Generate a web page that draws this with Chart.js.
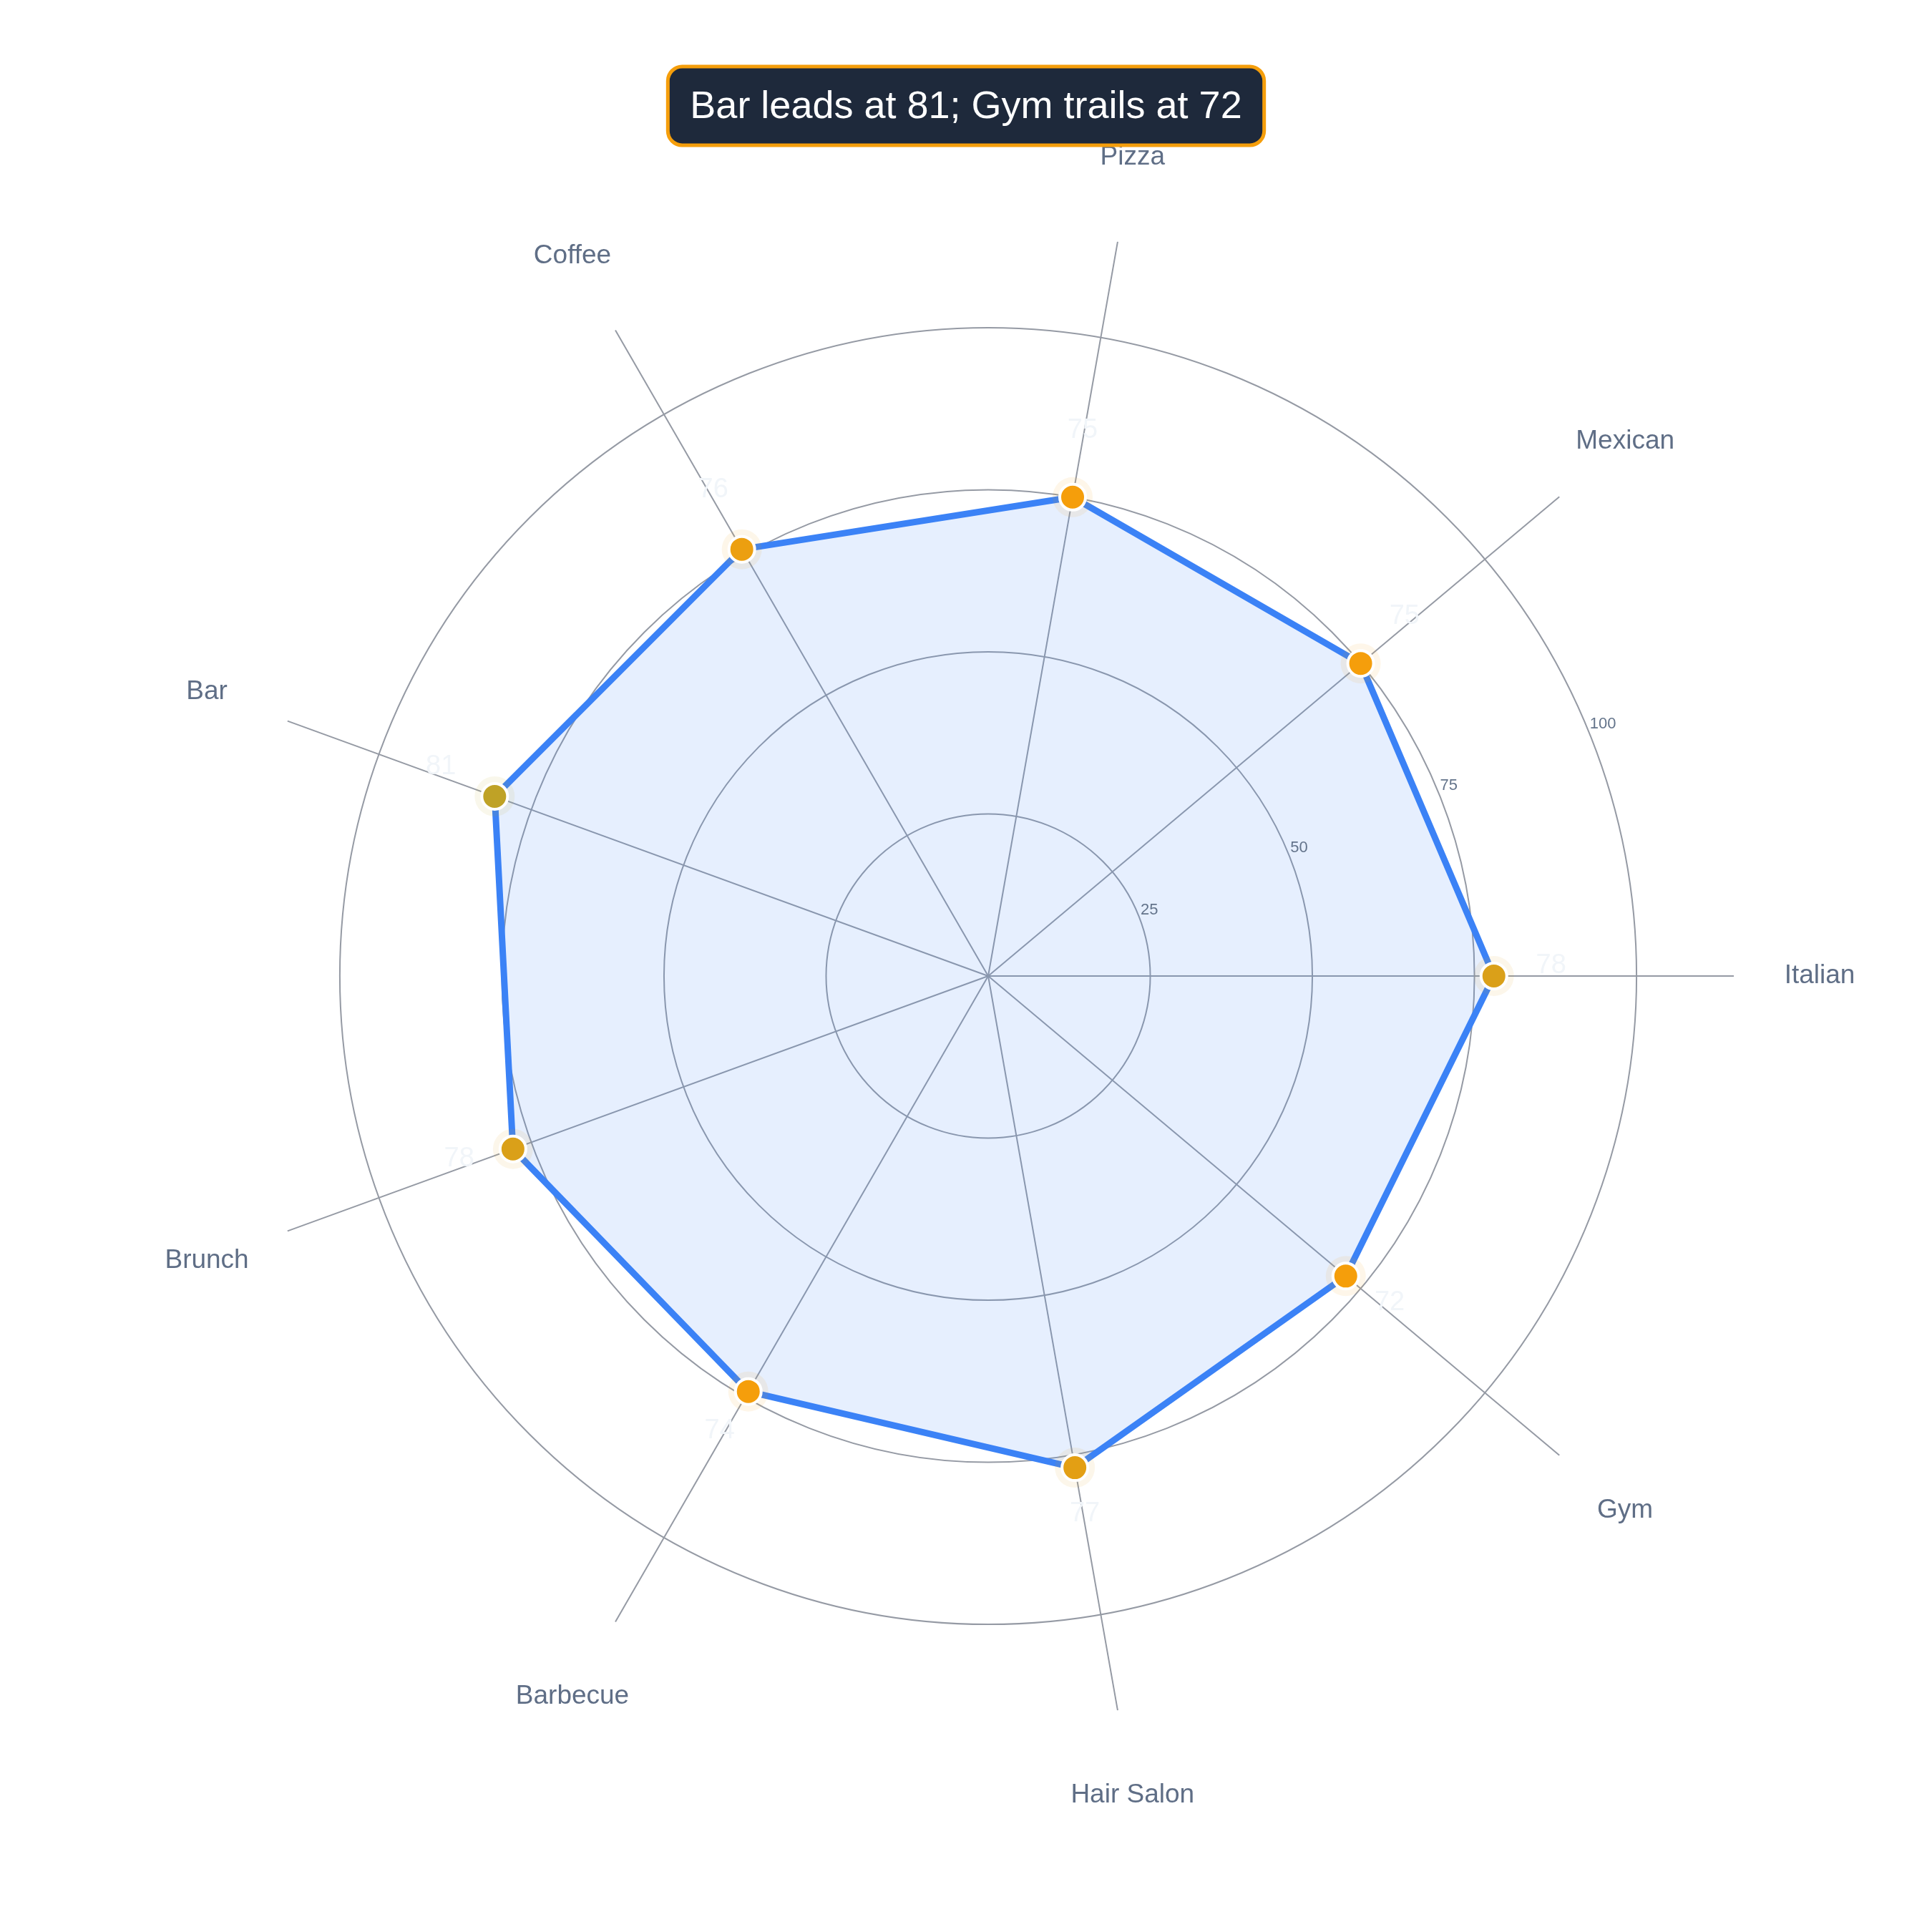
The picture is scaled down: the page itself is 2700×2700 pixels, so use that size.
<!DOCTYPE html>
<html>
<head>
<meta charset="utf-8">
<script src="https://cdn.jsdelivr.net/npm/chart.js@4.4.1/dist/chart.umd.min.js"></script>
<style>
  html, body { margin: 0; padding: 0; background: #ffffff; }
  #wrap { width: 2700px; height: 2700px; }
</style>
</head>
<body>
<div id="wrap"><canvas id="radar" width="2700" height="2700"></canvas></div>
<script>
// categories go counter-clockwise starting at the right (east)
const categories = ['Italian', 'Mexican', 'Pizza', 'Coffee', 'Bar', 'Brunch', 'Barbecue', 'Hair Salon', 'Gym'];
const scores = [78, 75, 75, 76, 81, 78, 74, 77, 72];
const tickValues = [25, 50, 75, 100];
const titleText = 'Bar leads at 81; Gym trails at 72';

const FONT = '"Liberation Sans", Arial, Helvetica, sans-serif';
const gridColor = '#959aa4';

// Chart.js runs clockwise, so flip everything after the first category
const order = [0].concat(categories.map((_, i) => i).slice(1).reverse());
const labels = order.map(i => categories[i]);
const values = order.map(i => scores[i]);

// orange for average scores, shifting to olive for the top ones
function pointColor(v, a) {
  const t = Math.max(0, Math.min(1, (v - 75) / 6));
  const r = Math.round(245 + (191 - 245) * t);
  const g = Math.round(158 + (162 - 158) * t);
  const b = Math.round(11 + (38 - 11) * t);
  return 'rgba(' + r + ',' + g + ',' + b + ',' + a + ')';
}

const overlay = {
  id: 'overlay',
  afterDatasetsDraw(chart) {
    const ctx = chart.ctx;
    const scale = chart.scales.r;
    const cx = scale.xCenter, cy = scale.yCenter;

    // radial tick labels
    ctx.save();
    ctx.font = '22px ' + FONT;
    ctx.fillStyle = '#64748b';
    ctx.textAlign = 'left';
    ctx.textBaseline = 'middle';
    const a = 22.5 * Math.PI / 180;
    tickValues.forEach(v => {
      const d = scale.getDistanceFromCenterForValue(v) + 4;
      ctx.fillText(String(v), cx + d * Math.cos(a), cy - d * Math.sin(a) - 4);
    });

    // category labels
    ctx.font = '37px ' + FONT;
    ctx.fillStyle = '#5f6e86';
    ctx.textAlign = 'center';
    const labelDist = scale.getDistanceFromCenterForValue(scale.max) + 120;
    labels.forEach((lab, i) => {
      const p = scale.getPointPosition(i, labelDist);
      ctx.fillText(lab, p.x, p.y);
    });

    // value labels next to the markers
    ctx.font = '38px ' + FONT;
    ctx.fillStyle = '#f1f5f9';
    const meta = chart.getDatasetMeta(2);
    meta.data.forEach((pt, i) => {
      const dx = pt.x - cx, dy = pt.y - cy;
      const len = Math.sqrt(dx * dx + dy * dy);
      ctx.fillText(String(values[i]), pt.x + dx / len * 80, pt.y + dy / len * 80 - 14);
    });
    ctx.restore();
  },
  afterDraw(chart) {
    const ctx = chart.ctx;
    ctx.save();
    ctx.font = '54px ' + FONT;
    const w = ctx.measureText(titleText).width + 62;
    const h = 110;
    const x = 1350 - w / 2, y = 93;
    ctx.beginPath();
    ctx.roundRect(x, y, w, h, 20);
    ctx.fillStyle = '#1e293b';
    ctx.fill();
    ctx.lineWidth = 5;
    ctx.strokeStyle = '#f59e0b';
    ctx.stroke();
    ctx.fillStyle = '#ffffff';
    ctx.textAlign = 'center';
    ctx.textBaseline = 'middle';
    ctx.fillText(titleText, 1350, y + h / 2 + 2);
    ctx.restore();
  }
};

new Chart(document.getElementById('radar'), {
  type: 'radar',
  data: {
    labels: labels,
    datasets: [
      {
        data: values,
        borderColor: '#3b82f6',
        borderWidth: 9,
        backgroundColor: 'rgba(59,130,246,0.13)',
        fill: true,
        pointRadius: 0,
        order: 3
      },
      {
        data: values,
        showLine: false,
        fill: false,
        backgroundColor: 'rgba(0,0,0,0)',
        pointRadius: 28,
        pointBorderWidth: 0,
        pointBackgroundColor: c => pointColor(c.raw, 0.09),
        order: 2
      },
      {
        data: values,
        showLine: false,
        fill: false,
        backgroundColor: 'rgba(0,0,0,0)',
        pointRadius: 18,
        pointBorderWidth: 4,
        pointBorderColor: '#ffffff',
        pointBackgroundColor: c => pointColor(c.raw, 1),
        order: 1
      }
    ]
  },
  options: {
    responsive: false,
    devicePixelRatio: 1,
    animation: false,
    layout: { padding: { left: 339, right: 277, top: 322, bottom: 294 } },
    plugins: {
      legend: { display: false },
      title: { display: false },
      tooltip: { enabled: false }
    },
    scales: {
      r: {
        min: 0,
        max: 115,
        bounds: 'data',
        startAngle: 90,
        afterBuildTicks: s => { s.ticks = [0].concat(tickValues).map(v => ({ value: v })); },
        ticks: { display: false, stepSize: 25 },
        pointLabels: { display: false },
        grid: { color: gridColor, lineWidth: 2, circular: true },
        angleLines: { color: gridColor, lineWidth: 2 }
      }
    }
  },
  plugins: [overlay]
});
</script>
</body>
</html>
